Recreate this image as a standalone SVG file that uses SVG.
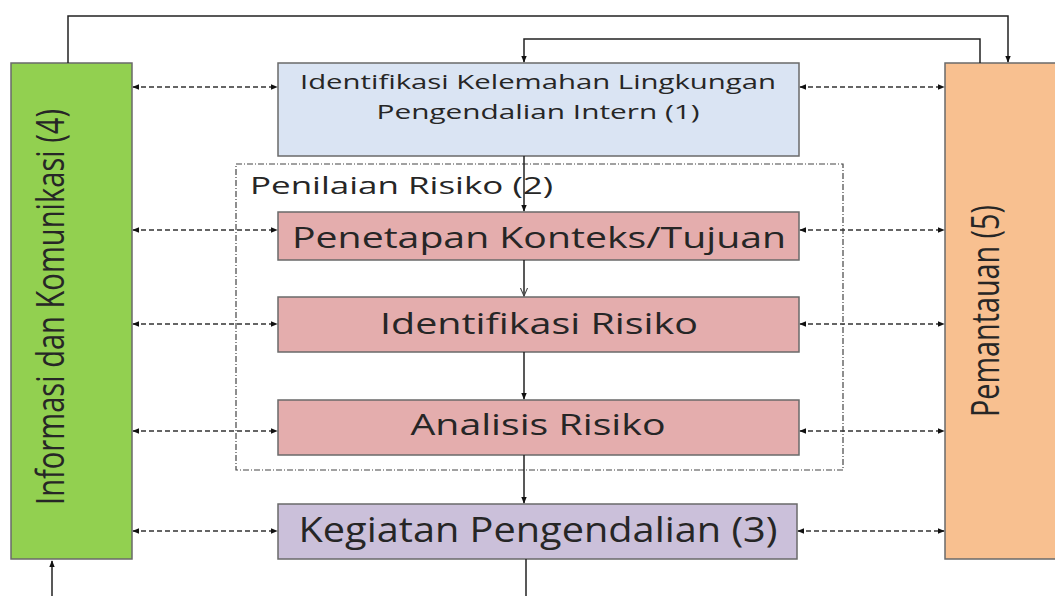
<svg xmlns="http://www.w3.org/2000/svg" width="1055" height="596" viewBox="0 0 1055 596">
<style>
.box{stroke:#6a6a6a;stroke-width:1.5}
.t{font-family:"Open Sans","Liberation Sans",sans-serif;fill:#262626}
.solid{fill:none;stroke:#222;stroke-width:1.5}
.dash{fill:none;stroke:#333;stroke-width:1.3;stroke-dasharray:5 3}
</style>
<defs>
<marker id="ah" viewBox="0 0 10 10" refX="9" refY="5" markerWidth="7" markerHeight="7" orient="auto-start-reverse" markerUnits="userSpaceOnUse"><path d="M0,1 L10,5 L0,9 z" fill="#111"/></marker>
<marker id="oa" viewBox="0 0 10 10" refX="9" refY="5" markerWidth="9" markerHeight="9" orient="auto" markerUnits="userSpaceOnUse"><path d="M0,1 L9,5 L0,9" fill="none" stroke="#444" stroke-width="1.2"/></marker>
</defs>
<rect width="1055" height="596" fill="#fff"/>
<g id="penilaian-risiko">
<rect x="236" y="164" width="607" height="306" fill="none" stroke="#444" stroke-width="1.2" stroke-dasharray="6 2 1 2"/>
<text class="t" x="250" y="194" font-size="23" textLength="303" lengthAdjust="spacingAndGlyphs">Penilaian Risiko (2)</text>
</g>
<g id="informasi">
<rect class="box" x="11" y="63" width="121" height="496" fill="#92D050"/>
<text class="t" transform="translate(64,307) rotate(-90) scale(1,1.3)" text-anchor="middle" font-size="29" textLength="396" lengthAdjust="spacingAndGlyphs">Informasi dan Komunikasi (4)</text>
</g>
<g id="pemantauan">
<rect class="box" x="945" y="63" width="115" height="496" fill="#F8C090"/>
<text class="t" transform="translate(999,311) rotate(-90) scale(1,1.3)" text-anchor="middle" font-size="29" textLength="212" lengthAdjust="spacingAndGlyphs">Pemantauan (5)</text>
</g>
<g id="identifikasi-kelemahan">
<rect class="box" x="278" y="63" width="521" height="93" fill="#DAE4F3"/>
<text class="t" x="538" y="89" text-anchor="middle" font-size="20" textLength="476" lengthAdjust="spacingAndGlyphs">Identifikasi Kelemahan Lingkungan</text>
<text class="t" x="538" y="119" text-anchor="middle" font-size="20" textLength="323" lengthAdjust="spacingAndGlyphs">Pengendalian Intern (1)</text>
</g>
<g id="penetapan">
<rect class="box" x="278" y="212" width="521" height="48" fill="#E4ADAD"/>
<text class="t" x="539" y="248" text-anchor="middle" font-size="29" textLength="494" lengthAdjust="spacingAndGlyphs">Penetapan Konteks/Tujuan</text>
</g>
<g id="identifikasi-risiko">
<rect class="box" x="278" y="297" width="521" height="55" fill="#E4ADAD"/>
<text class="t" x="539" y="334" text-anchor="middle" font-size="29" textLength="318" lengthAdjust="spacingAndGlyphs">Identifikasi Risiko</text>
</g>
<g id="analisis-risiko">
<rect class="box" x="278" y="400" width="521" height="55" fill="#E4ADAD"/>
<text class="t" x="538" y="435" text-anchor="middle" font-size="29" textLength="255" lengthAdjust="spacingAndGlyphs">Analisis Risiko</text>
</g>
<g id="kegiatan">
<rect class="box" x="278" y="504" width="519" height="55" fill="#CBC0DA"/>
<text class="t" transform="translate(538,542) scale(1,1.15)" text-anchor="middle" font-size="30" textLength="479" lengthAdjust="spacingAndGlyphs">Kegiatan Pengendalian (3)</text>
</g>
<g id="connectors">
<path class="solid" d="M68,63 V16 H1008 V62" marker-end="url(#ah)"/>
<path class="solid" stroke="#555" d="M980,63 V39 H524 V62" marker-end="url(#ah)"/>
<path class="solid" d="M524,156 V211" marker-end="url(#ah)"/>
<path class="solid" stroke="#555" stroke-width="1.2" d="M524,260 V296" marker-end="url(#oa)"/>
<path class="solid" d="M524,352 V399" marker-end="url(#ah)"/>
<path class="solid" d="M524,455 V503" marker-end="url(#ah)"/>
<path class="solid" stroke="#555" d="M526,559 V596"/>
<path class="solid" stroke="#333" stroke-width="1.2" d="M52,596 V561" marker-end="url(#ah)"/>
<path class="dash" d="M133,87 H277" marker-start="url(#ah)" marker-end="url(#ah)"/>
<path class="dash" d="M133,230 H277" marker-start="url(#ah)" marker-end="url(#ah)"/>
<path class="dash" d="M133,324 H277" marker-start="url(#ah)" marker-end="url(#ah)"/>
<path class="dash" d="M133,431 H277" marker-start="url(#ah)" marker-end="url(#ah)"/>
<path class="dash" d="M133,531 H277" marker-start="url(#ah)" marker-end="url(#ah)"/>
<path class="dash" d="M800,87 H944" marker-start="url(#ah)" marker-end="url(#ah)"/>
<path class="dash" d="M800,230 H944" marker-start="url(#ah)" marker-end="url(#ah)"/>
<path class="dash" d="M800,324 H944" marker-start="url(#ah)" marker-end="url(#ah)"/>
<path class="dash" d="M800,431 H944" marker-start="url(#ah)" marker-end="url(#ah)"/>
<path class="dash" d="M798,531 H944" marker-start="url(#ah)" marker-end="url(#ah)"/>
</g>
</svg>
